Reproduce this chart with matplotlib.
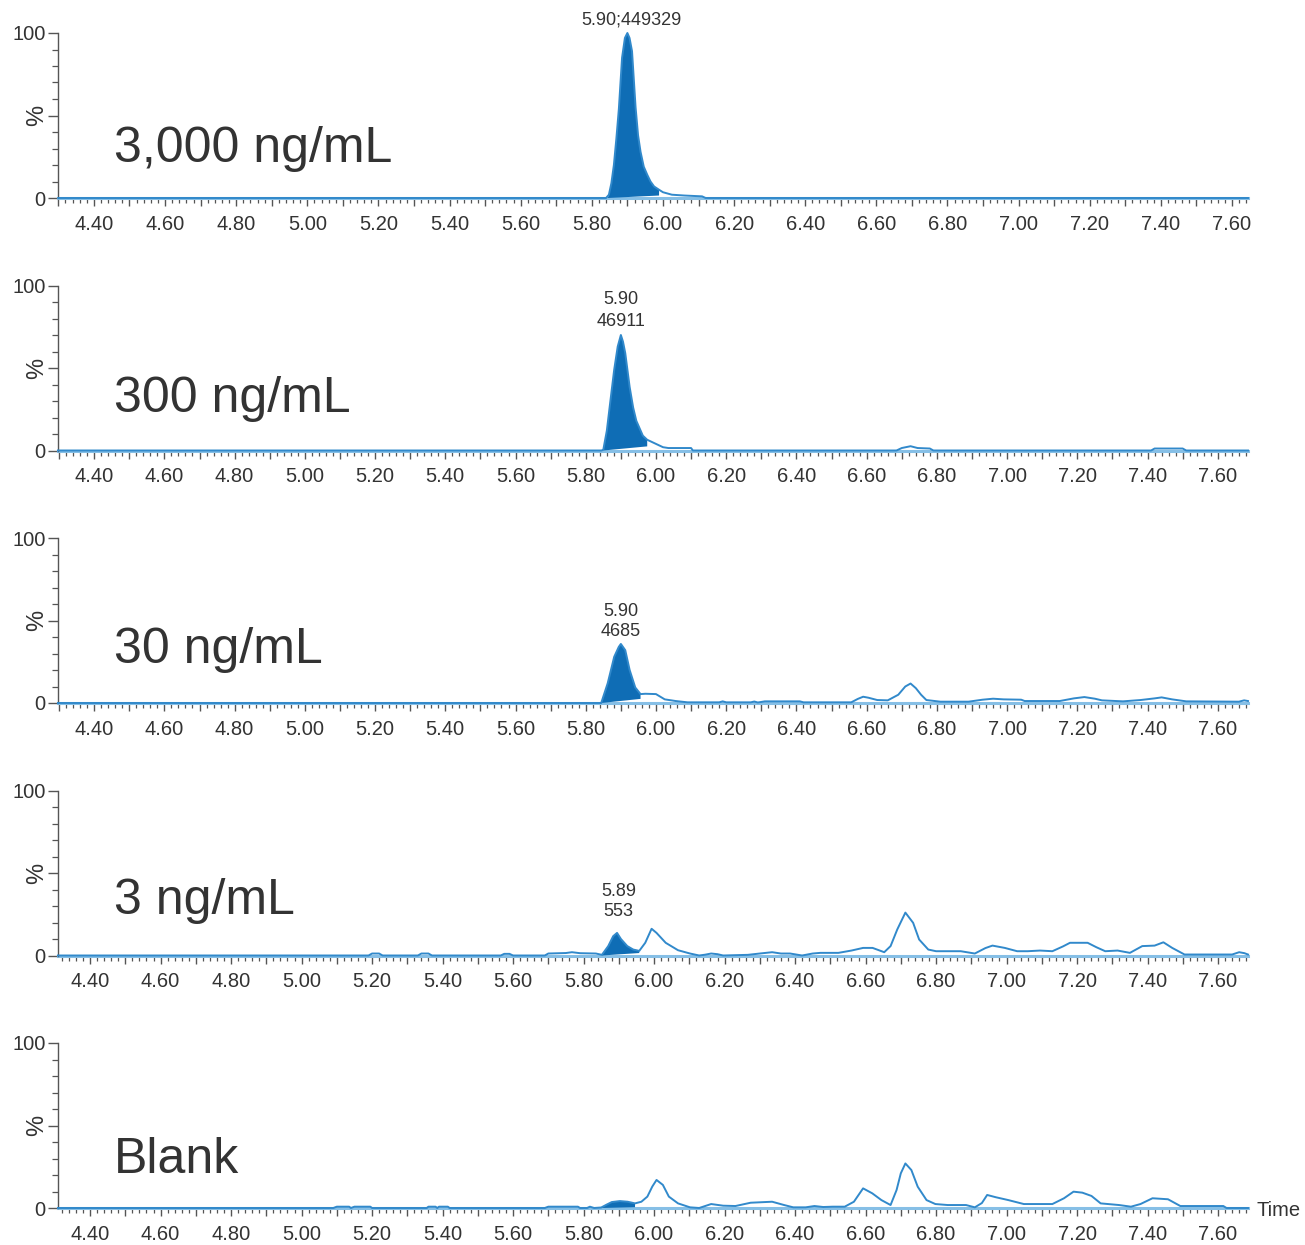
import matplotlib
matplotlib.use('Agg')
import matplotlib.pyplot as plt
from matplotlib.ticker import MultipleLocator, FuncFormatter

plt.rcParams['font.family'] = ['Liberation Sans', 'DejaVu Sans']

# sample names and peak annotations
samples = ['3,000 ng/mL', '300 ng/mL', '30 ng/mL', '3 ng/mL', 'Blank']
peak_labels = ['5.90;449329', '5.90\n46911', '5.90\n4685', '5.89\n553', None]

# chromatogram traces (time in min, intensity in %)
t_3000 = [4.30, 5.84, 5.848, 5.855, 5.862, 5.869, 5.876, 5.885, 5.893, 5.900, 5.906,
          5.913, 5.918, 5.923, 5.930, 5.937, 5.946, 5.956, 5.965, 5.975, 5.989, 6.00,
          6.025, 6.06, 6.11, 6.12, 7.645]
i_3000 = [0, 0, 2, 9, 20, 36, 54, 85, 97, 100, 97,
          89, 72, 55, 38, 28, 19, 14, 10, 7, 5, 3.5,
          2, 1.5, 1, 0, 0]

t_300 = [4.297, 5.845, 5.85, 5.86, 5.869, 5.881, 5.891, 5.90, 5.906, 5.9125, 5.925,
         5.935, 5.944, 5.9625, 5.975, 5.98, 6.00, 6.02, 6.035, 6.10, 6.105, 6.685,
         6.70, 6.725, 6.745, 6.78, 6.79, 7.41, 7.42, 7.50, 7.51, 7.686]
i_300 = [0, 0, 0.5, 12, 28, 49, 63, 70, 66, 59, 38.5,
         26, 18, 9, 6.5, 6, 4, 2, 1.5, 1.5, 0, 0,
         1.5, 2.6, 1.5, 1.2, 0, 0, 1.2, 1.2, 0, 0]

t_30 = [4.297, 5.844, 5.8625, 5.881, 5.894, 5.90, 5.9125, 5.925, 5.941, 5.956, 5.97,
        6.00, 6.025, 6.056, 6.09, 6.18, 6.19, 6.20, 6.27, 6.28, 6.29, 6.31, 6.41,
        6.42, 6.556, 6.575, 6.59, 6.605, 6.63, 6.66, 6.69, 6.71, 6.725, 6.74, 6.755,
        6.77, 6.81, 6.89, 6.93, 6.96, 6.99, 7.04, 7.05, 7.15, 7.19, 7.22, 7.25, 7.27,
        7.33, 7.38, 7.42, 7.44, 7.47, 7.51, 7.66, 7.675, 7.686]
i_30 = [0, 0, 12, 28, 34, 35.8, 32, 20, 9.4, 5.4, 5.6,
        5.4, 2.2, 1.2, 0.4, 0.4, 1, 0.4, 0.4, 0.9, 0.3, 1, 1,
        0.4, 0.4, 2.5, 3.8, 3.2, 1.8, 1.6, 5, 10, 11.8, 9, 5,
        1.8, 0.8, 0.8, 2, 2.6, 2.2, 2, 1.2, 1.2, 2.8, 3.6, 2.6, 1.6,
        1.0, 1.8, 2.8, 3.4, 2.2, 1.0, 0.8, 1.6, 1.2]

t_3 = [4.309, 5.19, 5.20, 5.22, 5.23, 5.33, 5.34, 5.36, 5.37, 5.565, 5.575, 5.59, 5.60,
       5.69, 5.70, 5.75, 5.767, 5.79, 5.835, 5.852, 5.87, 5.884, 5.895, 5.906, 5.924,
       5.941, 5.958, 5.975, 5.993, 6.007, 6.033, 6.068, 6.102, 6.128, 6.145, 6.162,
       6.18, 6.196, 6.266, 6.30, 6.335, 6.36, 6.386, 6.42, 6.45, 6.472, 6.523, 6.56,
       6.593, 6.62, 6.653, 6.671, 6.69, 6.713, 6.735, 6.752, 6.778, 6.80, 6.87, 6.91,
       6.94, 6.96, 6.995, 7.03, 7.06, 7.095, 7.13, 7.16, 7.18, 7.23, 7.255, 7.28,
       7.315, 7.35, 7.385, 7.42, 7.445, 7.47, 7.505, 7.64, 7.66, 7.675, 7.685]
i_3 = [0, 0, 1.2, 1.2, 0, 0, 1.2, 1.2, 0, 0, 1, 1, 0,
       0, 1.2, 1.5, 2, 1.4, 1.2, 0.4, 5.7, 11.7, 13.7, 10, 5.7,
       3.6, 2.8, 7.7, 16.2, 13.7, 7.7, 3.2, 1.2, 0, 0.5, 1.2,
       0.8, 0, 0.4, 1.2, 2, 1.2, 1.2, 0, 1.2, 1.6, 1.6, 3,
       4.6, 4.6, 2, 5.7, 15.8, 26, 19.8, 9.7, 3.6, 2.6, 2.6, 1.2,
       4.5, 6, 4.6, 2.6, 2.6, 3, 2.6, 5.5, 7.7, 7.7, 5, 2.6,
       3, 1.6, 5.7, 6, 8, 4.6, 0.6, 0.6, 2, 1.4, 0.6]

t_blank = [4.309, 5.09, 5.10, 5.135, 5.14, 5.15, 5.195, 5.20, 5.355, 5.36, 5.38, 5.385,
           5.39, 5.415, 5.42, 5.69, 5.70, 5.784, 5.79, 5.81, 5.818, 5.83, 5.85, 5.865,
           5.88, 5.903, 5.925, 5.946, 5.964, 5.981, 5.995, 6.007, 6.025, 6.042, 6.068,
           6.102, 6.128, 6.162, 6.196, 6.231, 6.274, 6.335, 6.369, 6.395, 6.43, 6.455,
           6.48, 6.507, 6.541, 6.567, 6.593, 6.619, 6.645, 6.671, 6.688, 6.700, 6.713,
           6.73, 6.748, 6.773, 6.798, 6.833, 6.885, 6.91, 6.93, 6.945, 6.97, 7.005,
           7.049, 7.13, 7.163, 7.19, 7.215, 7.241, 7.267, 7.319, 7.353, 7.38, 7.414,
           7.458, 7.493, 7.615, 7.624, 7.685]
i_blank = [0, 0, 0.8, 0.8, 0, 0.8, 0.8, 0, 0, 0.8, 0.8, 0,
           0.8, 0.8, 0, 0, 0.8, 0.8, 0, 0, 0.8, 0, 0.3, 2,
           3.6, 4.2, 3.8, 2.8, 3.8, 6.9, 13, 17, 14, 6.9, 2.8,
           0.4, 0, 2.4, 1.4, 1.2, 3.2, 3.8, 1.8, 0.4, 0.4, 1.2,
           0.6, 0.8, 0.8, 3.8, 11.9, 8.9, 4.8, 1.8, 10.9, 21, 27,
           23, 12.9, 4.8, 2.4, 1.8, 1.8, 0.4, 3, 7.9, 6.5, 4.8,
           2.4, 2.4, 5.9, 9.9, 9.3, 7.3, 2.8, 1.8, 0.8, 2.4, 5.9,
           5.3, 1.2, 1.2, 0, 0]

times = [t_3000, t_300, t_30, t_3, t_blank]
intens = [i_3000, i_300, i_30, i_3, i_blank]

# integrated peak: start, end, baseline height at end
peak_start = [5.845, 5.85, 5.844, 5.852, 5.85]
peak_end = [5.989, 5.975, 5.956, 5.958, 5.946]
peak_base_end = [1.5, 2.5, 2.5, 1.5, 0.5]

xlims = [(4.299, 7.645), (4.297, 7.686), (4.297, 7.686), (4.309, 7.685), (4.309, 7.685)]
label_pos = [(5.91, 108), (5.90, 85), (5.90, 49.5), (5.90, 32.7), None]
label_spacing = [1.2, 1.4, 1.2, 1.25, 1.2]
sample_y = [30, 31, 32, 33, 29]

line_color = '#3189cb'
fill_color = '#0f6db5'
axis_grey = '#555555'
text_grey = '#333333'

fig = plt.figure(figsize=(13.05, 12.45), dpi=100)
W, H = 1305.0, 1245.0
left, right = 58, 1248
for k in range(5):
    y0 = 198 + 252.5 * k
    ax = fig.add_axes([left / W, 1 - y0 / H, (right - left) / W, 165 / H])
    t = times[k]
    v = intens[k]

    # filled integrated peak
    xs = [peak_start[k]] + [a for a in t if peak_start[k] < a < peak_end[k]]
    ys = [0] + [b for a, b in zip(t, v) if peak_start[k] < a < peak_end[k]]
    ie = min(range(len(t)), key=lambda j: abs(t[j] - peak_end[k]))
    xs += [t[ie], peak_end[k]]
    ys += [v[ie], peak_base_end[k]]
    ax.fill(xs, ys, color=fill_color, lw=0, zorder=3)

    ax.plot(t, v, color=line_color, lw=1.4, zorder=4, clip_on=False)

    ax.set_xlim(*xlims[k])
    ax.set_ylim(0, 100)
    for s in ['top', 'right']:
        ax.spines[s].set_visible(False)
    ax.spines['left'].set_color(axis_grey)
    ax.spines['left'].set_linewidth(1.0)
    ax.spines['bottom'].set_color('#86bfe6')
    ax.spines['bottom'].set_linewidth(2.2)
    ax.spines['bottom'].set_zorder(2)

    ax.xaxis.set_major_locator(MultipleLocator(0.1))
    ax.xaxis.set_minor_locator(MultipleLocator(0.02))
    ax.xaxis.set_major_formatter(FuncFormatter(
        lambda x, p: '%.2f' % x if abs(round(x * 10) % 2) < 0.5 else ''))
    ax.yaxis.set_major_locator(MultipleLocator(50))
    ax.yaxis.set_minor_locator(MultipleLocator(10))
    ax.yaxis.set_major_formatter(FuncFormatter(
        lambda y, p: '' if abs(y - 50) < 1 else '%d' % y))
    ax.tick_params(axis='x', which='major', length=6, width=1, color=axis_grey,
                   labelsize=14.5, labelcolor=text_grey, pad=6)
    ax.tick_params(axis='x', which='minor', length=3.5, width=0.9, color=axis_grey)
    ax.tick_params(axis='y', which='major', length=7, width=1, color=axis_grey,
                   labelsize=14.5, labelcolor=text_grey, pad=2)
    ax.tick_params(axis='y', which='minor', length=4, width=0.9, color=axis_grey)
    ax.text(-0.008, 0.5, '%', rotation=90, transform=ax.transAxes, ha='right',
            va='center', fontsize=17, color=text_grey)

    ax.text(0.047, sample_y[k], samples[k], transform=ax.get_yaxis_transform(),
            fontsize=36, color=text_grey, ha='left', va='center')

    if peak_labels[k] is not None:
        ax.text(label_pos[k][0], label_pos[k][1], peak_labels[k], ha='center',
                va='center', fontsize=13, color=text_grey,
                linespacing=label_spacing[k], clip_on=False)

    if k == 4:
        ax.text(1.007, -1.5, 'Time', transform=ax.get_yaxis_transform(),
                ha='left', va='center', fontsize=14.5, color=text_grey)

fig.savefig('out.png', dpi=100)
